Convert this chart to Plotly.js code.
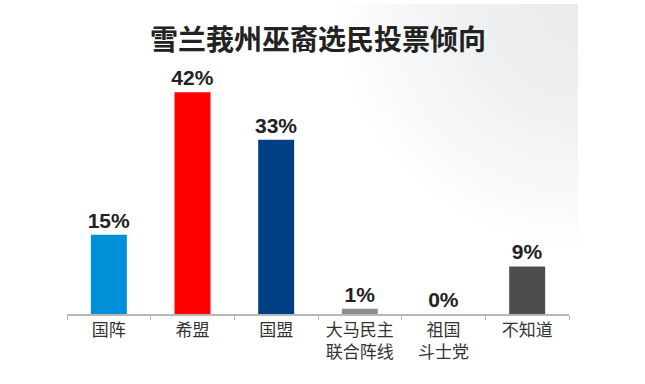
<!DOCTYPE html>
<html>
<head>
<meta charset="utf-8">
<script src="https://cdn.plot.ly/plotly-3.0.1.min.js"></script>
<style>
  html, body { margin: 0; padding: 0; background: #ffffff; }
  #bg { position: absolute; left: 330px; top: 4px; width: 248px; height: 250px;
        background: radial-gradient(ellipse at top right, #e8eaec 0%, #eef0f1 30%, #f6f7f8 50%, rgba(255,255,255,0) 70%); }
  #chart { position: absolute; left: 0; top: 0; width: 645px; height: 384px; }
</style>
</head>
<body>
<div id="bg"></div>
<div id="chart"></div>
<script>
const categories = ['国阵', '希盟', '国盟', '大马民主<br>联合阵线', '祖国<br>斗士党', '不知道'];
const values = [15, 42, 33, 1, 0, 9];
const valueLabels = ['15%', '42%', '33%', '1%', '0%', '9%'];
const barColors = ['#0090d8', '#ff0000', '#003f84', '#8c8c8c', '#8c8c8c', '#4d4d4f'];
const chartTitle = '雪兰莪州巫裔选民投票倾向';

const cjk = '"Noto Sans CJK SC", "Noto Sans", sans-serif';
const tickFam = '"Liberation Sans", "Noto Sans CJK SC", sans-serif';

Plotly.newPlot('chart', [{
  type: 'bar',
  x: categories,
  y: values,
  text: valueLabels,
  textposition: 'outside',
  constraintext: 'none',
  cliponaxis: false,
  textfont: { family: '"Liberation Sans", Arial, sans-serif', size: 21, color: '#222222', weight: 'bold' },
  marker: { color: barColors },
  hoverinfo: 'none'
}], {
  width: 645,
  height: 384,
  margin: { l: 67, r: 76, t: 50, b: 70 },
  paper_bgcolor: 'rgba(0,0,0,0)',
  plot_bgcolor: 'rgba(0,0,0,0)',
  bargap: 0.57,
  showlegend: false,
  title: {
    text: '<b>' + chartTitle + '</b>',
    font: { family: cjk, size: 28, color: '#222222' },
    x: 0.5, xref: 'paper', xanchor: 'center',
    y: 0.896, yref: 'container', yanchor: 'middle'
  },
  xaxis: {
    type: 'category',
    showline: true, linecolor: '#b8b8b8', linewidth: 1.5,
    ticks: 'outside', tickson: 'boundaries', ticklen: 4, tickcolor: '#b8b8b8', tickwidth: 1,
    tickfont: { family: tickFam, size: 17, color: '#333333' },
    showgrid: false, zeroline: false, fixedrange: true
  },
  yaxis: {
    range: [0, 50],
    visible: false, showgrid: false, zeroline: false, fixedrange: true
  }
}, { staticPlot: true });
</script>
</body>
</html>
